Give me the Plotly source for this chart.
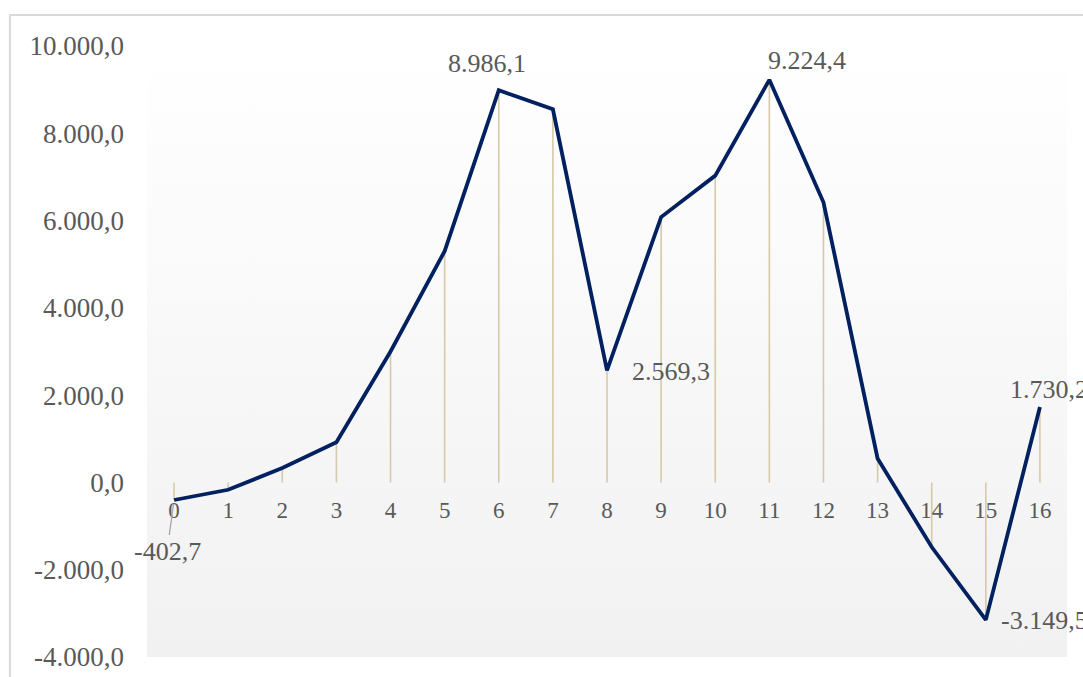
import plotly.graph_objects as go

categories = list(range(17))
values = [-402.7, -168, 330, 920, 3000, 5300, 8986.1, 8550, 2569.3, 6080, 7030,
          9224.4, 6420, 550, -1480, -3149.5, 1730.2]
y_ticks = [-4000, -2000, 0, 2000, 4000, 6000, 8000, 10000]
labelled = [0, 6, 8, 11, 15, 16]

y_range = [-4000, 10000]
x_range = [-0.5, 16.5]

LINE = "#002060"
DROP = "#d5caa8"
TEXT = "#595959"
FONT = "Liberation Serif"


def eu(v):
    s = f"{v:,.1f}"
    return s.replace(",", "X").replace(".", ",").replace("X", ".")


fig = go.Figure()

# plot-area gradient background
fig.add_trace(go.Scatter(
    x=[x_range[0], x_range[1], x_range[1], x_range[0], x_range[0]],
    y=[y_range[0], y_range[0], y_range[1], y_range[1], y_range[0]],
    mode="lines", line=dict(width=0), fill="toself",
    fillgradient=dict(type="vertical",
                      colorscale=[[0, "#f1f1f1"], [1, "#ffffff"]]),
    hoverinfo="skip", showlegend=False))

# drop lines
dx, dy = [], []
for c, v in zip(categories, values):
    dx += [c, c, None]
    dy += [0, v, None]
fig.add_trace(go.Scatter(x=dx, y=dy, mode="lines",
                         line=dict(color=DROP, width=1.6),
                         hoverinfo="skip", showlegend=False))

# main line
fig.add_trace(go.Scatter(x=categories, y=values, mode="lines",
                         line=dict(color=LINE, width=3.8),
                         showlegend=False))

annots = []
offsets = {
    6: dict(xshift=-12, yshift=27),
    11: dict(xshift=38, yshift=19),
    8: dict(xanchor="left", xshift=23, yshift=-1),
    15: dict(xanchor="left", xshift=13, yshift=-1),
    16: dict(xanchor="left", xshift=-32, yshift=17),
}
for i in labelled:
    if i == 0:
        annots.append(dict(x=categories[i], y=values[i], text=eu(values[i]),
                           showarrow=True, arrowhead=0, arrowwidth=1.3,
                           arrowcolor="#a6a6a6", ax=-7, ay=51, standoff=4,
                           font=dict(family=FONT, size=26, color=TEXT)))
    else:
        annots.append(dict(x=categories[i], y=values[i], text=eu(values[i]),
                           showarrow=False,
                           font=dict(family=FONT, size=26, color=TEXT),
                           **offsets[i]))

fig.update_layout(
    width=1083, height=677,
    margin=dict(l=147, r=16, t=46, b=20, autoexpand=False),
    paper_bgcolor="white", plot_bgcolor="white",
    showlegend=False,
    annotations=annots,
    shapes=[dict(type="rect", xref="paper", yref="paper",
                 x0=-0.149, x1=1.2, y0=-0.2, y1=1.0507,
                 line=dict(color="#d9d9d9", width=2), layer="below")],
    xaxis=dict(range=x_range, tickvals=categories,
               ticktext=[str(c) for c in categories],
               showgrid=False, zeroline=False, showline=False, ticks="",
               anchor="free", automargin=False,
               position=(0 - y_range[0]) / (y_range[1] - y_range[0]),
               ticklabelstandoff=12,
               tickfont=dict(family=FONT, size=23, color=TEXT)),
    yaxis=dict(range=y_range, tickvals=y_ticks,
               ticktext=[eu(t) for t in y_ticks],
               showgrid=False, zeroline=True, zerolinecolor="#d9d9d9",
               zerolinewidth=2, showline=False, ticks="", automargin=False,
               ticklabelstandoff=22,
               tickfont=dict(family=FONT, size=27, color=TEXT)),
)

fig.write_html("out.html")
